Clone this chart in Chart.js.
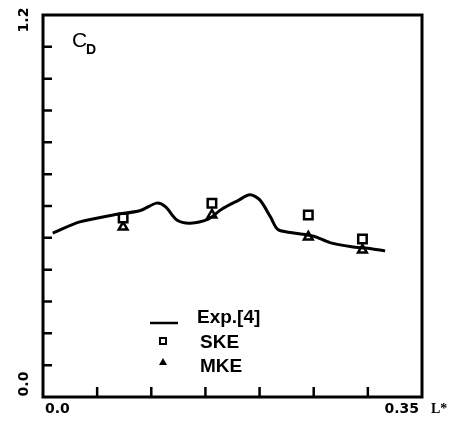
<!DOCTYPE html>
<html>
<head>
<meta charset="utf-8">
<script src="https://cdn.jsdelivr.net/npm/chart.js@4/dist/chart.umd.min.js"></script>
<style>
  html, body { margin: 0; padding: 0; background: #fff; }
  #wrap { width: 462px; height: 425px; }
</style>
</head>
<body>
<div id="wrap"><canvas id="cd-chart" width="462" height="425"></canvas></div>
<script>
// Experimental curve, Exp.[4]
const expX = [0.009, 0.034, 0.065, 0.090, 0.105, 0.113, 0.124, 0.136, 0.152, 0.165,
              0.180, 0.191, 0.200, 0.210, 0.217, 0.230, 0.250, 0.265, 0.285, 0.300, 0.316];
const expY = [0.515, 0.550, 0.572, 0.586, 0.609, 0.598, 0.555, 0.546, 0.558, 0.590,
              0.617, 0.635, 0.620, 0.566, 0.526, 0.516, 0.505, 0.485, 0.472, 0.467, 0.459];

// Computed points
const calcX = [0.074, 0.156, 0.245, 0.295];
const skeY = [0.562, 0.609, 0.572, 0.496];
const mkeY = [0.534, 0.572, 0.503, 0.462];

// Axes
const xTicks = [0, 0.05, 0.10, 0.15, 0.20, 0.25, 0.30, 0.35];
const yTicks = [0, 0.1, 0.2, 0.3, 0.4, 0.5, 0.6, 0.7, 0.8, 0.9, 1.0, 1.1, 1.2];
const xLabels = ['0.0', '0.35'];
const yLabels = ['0.0', '1.2'];
const xTitle = 'L*';

const toPts = (xs, ys) => xs.map((x, i) => ({ x: x, y: ys[i] }));

// Frame, inward ticks, end labels and legend
const framePlugin = {
    id: 'frame',
    afterDraw(chart) {
        const ctx = chart.ctx;
        const area = chart.chartArea;
        const xs = chart.scales.x;
        const ys = chart.scales.y;
        ctx.save();
        ctx.strokeStyle = '#000';
        ctx.lineWidth = 3;
        ctx.strokeRect(area.left, area.top, area.right - area.left, area.bottom - area.top);

        ctx.lineWidth = 2.5;
        ctx.beginPath();
        yTicks.slice(1, -1).forEach(v => {
            const py = ys.getPixelForValue(v);
            ctx.moveTo(area.left, py);
            ctx.lineTo(area.left + 9, py);
        });
        xTicks.slice(1, -1).forEach(v => {
            const px = xs.getPixelForValue(v);
            ctx.moveTo(px, area.bottom);
            ctx.lineTo(px, area.bottom - 10);
        });
        ctx.stroke();

        // tick labels
        ctx.fillStyle = '#000';
        ctx.font = 'bold 14px "DejaVu Sans"';
        ctx.textBaseline = 'alphabetic';
        ctx.textAlign = 'left';
        ctx.fillText(xLabels[0], xs.getPixelForValue(xTicks[0]) + 2, 413);
        ctx.textAlign = 'right';
        ctx.fillText(xLabels[1], xs.getPixelForValue(xTicks[xTicks.length - 1]) - 3, 413);
        ctx.textAlign = 'left';
        ctx.font = 'bold 14px "Liberation Serif"';
        ctx.fillText(xTitle, 431, 413);

        ctx.font = 'bold 14px "DejaVu Sans"';
        ctx.textAlign = 'center';
        ctx.textBaseline = 'middle';
        [[yLabels[0], ys.getPixelForValue(yTicks[0]) - 13], [yLabels[1], ys.getPixelForValue(yTicks[yTicks.length - 1]) + 5]]
            .forEach(([t, py]) => {
                ctx.save();
                ctx.translate(24, py);
                ctx.rotate(-Math.PI / 2);
                ctx.fillText(t, 0, 0);
                ctx.restore();
            });

        // C_D label
        ctx.textAlign = 'left';
        ctx.textBaseline = 'alphabetic';
        ctx.font = '21px "Liberation Sans"';
        ctx.fillText('C', 72, 47);
        ctx.font = 'bold 14px "Liberation Sans"';
        ctx.fillText('D', 86, 54);

        // legend
        const ds = chart.data.datasets;
        ctx.font = 'bold 19px "Liberation Sans"';
        ctx.textBaseline = 'middle';
        ctx.lineWidth = 2.5;
        ctx.beginPath();
        ctx.moveTo(150, 323);
        ctx.lineTo(178, 323);
        ctx.stroke();
        ctx.fillText(ds[0].label, 197, 318);

        ctx.lineWidth = 2;
        ctx.strokeRect(160, 338, 6, 6);
        ctx.fillText(ds[1].label, 200, 343);

        ctx.beginPath();
        ctx.moveTo(163, 358);
        ctx.lineTo(167, 365);
        ctx.lineTo(159, 365);
        ctx.closePath();
        ctx.fill();
        ctx.fillText(ds[2].label, 200, 367);
        ctx.restore();
    }
};

new Chart(document.getElementById('cd-chart'), {
    type: 'scatter',
    data: {
        datasets: [
            {
                label: 'Exp.[4]',
                data: toPts(expX, expY),
                showLine: true,
                borderColor: '#000',
                borderWidth: 3,
                pointRadius: 0,
                tension: 0.3
            },
            {
                label: 'SKE',
                data: toPts(calcX, skeY),
                pointStyle: 'rect',
                pointRadius: 6,
                backgroundColor: '#fff',
                borderColor: '#000',
                borderWidth: 2.5
            },
            {
                label: 'MKE',
                data: toPts(calcX, mkeY),
                pointStyle: 'triangle',
                pointRadius: 5,
                backgroundColor: '#fff',
                borderColor: '#000',
                borderWidth: 2.5
            }
        ]
    },
    options: {
        responsive: false,
        animation: false,
        layout: { padding: { left: 43, right: 40, top: 15, bottom: 28 } },
        plugins: { legend: { display: false }, tooltip: { enabled: false } },
        scales: {
            x: { type: 'linear', min: 0, max: 0.35, display: false },
            y: { type: 'linear', min: 0, max: 1.2, display: false }
        }
    },
    plugins: [framePlugin]
});
</script>
</body>
</html>
